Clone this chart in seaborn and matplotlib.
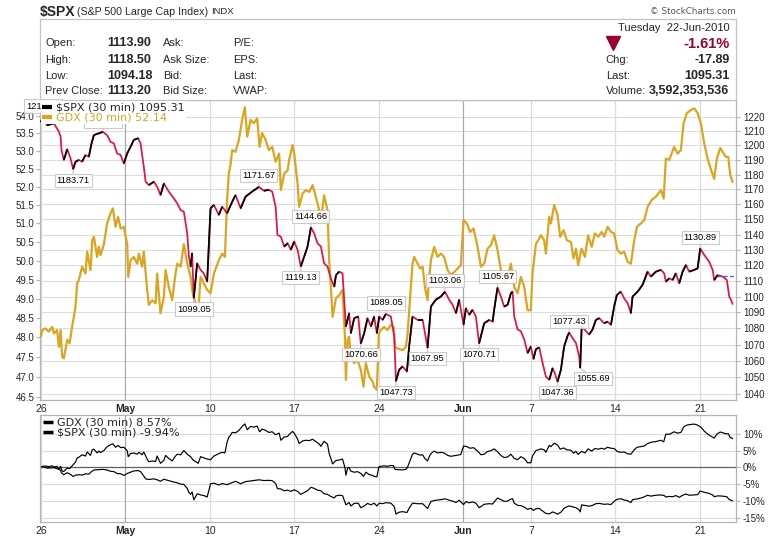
import matplotlib
matplotlib.use("Agg")
import matplotlib.pyplot as plt
import numpy as np
import pandas as pd
import seaborn as sns
from matplotlib.collections import LineCollection
from matplotlib.lines import Line2D
from matplotlib.ticker import NullLocator

# ---------------- data (trading-day index: 0 = Mon 26-Apr-2010 open) ----------------
spx_day = [0.00, 0.12, 0.36, 0.77, 1.07, 1.17, 1.22, 1.36, 1.56, 1.76, 1.91, 2.05, 2.25, 2.44, 2.64, 2.84, 3.00, 3.14, 3.43, 3.67, 3.92, 4.12, 4.32, 4.51, 4.72, 4.91,
           5.11, 5.31, 5.50, 5.76, 5.90, 6.09, 6.20, 6.39, 6.69, 6.88, 7.08, 7.28, 7.57, 7.87, 8.07, 8.27, 8.46, 8.66, 8.76, 8.86, 8.95, 9.05, 9.25, 9.45, 9.64, 9.84,
           10.04, 10.24, 10.53, 10.73, 11.02, 11.32, 11.52, 11.82, 12.11, 12.50, 12.90, 13.20, 13.49, 13.69, 13.89, 14.00, 14.20, 14.40, 14.60, 14.79, 14.99,
           15.19, 15.38, 15.58, 15.78, 15.98, 16.17, 16.37, 16.57, 16.76, 16.96, 17.16, 17.36, 17.46, 17.65, 17.85, 17.95, 18.05, 18.24, 18.34, 18.54, 18.78, 18.93, 19.13, 19.33, 19.53, 19.72, 19.88,
           20.02, 20.22, 20.41, 20.71, 20.91, 21.01, 21.20, 21.40, 21.66, 21.79, 21.99, 22.29, 22.59, 22.88, 23.08, 23.37, 23.67, 23.91, 24.16, 24.36, 24.56, 24.75,
           25.01, 25.15, 25.34, 25.54, 25.74, 25.93, 26.23, 26.53, 26.73, 26.82, 27.02, 27.22, 27.41, 27.62, 27.81, 27.91, 28.01, 28.21, 28.40, 28.60, 28.80, 28.99,
           29.15, 29.29, 29.49, 29.69, 29.88, 30.08, 30.28, 30.41, 30.57, 30.77, 30.96, 31.17, 31.26, 31.46, 31.66, 31.85, 31.91, 32.00, 32.25, 32.44, 32.64, 32.84, 33.04, 33.33, 33.53, 33.73, 33.92,
           34.08, 34.32, 34.51, 34.72, 34.91, 35.01, 35.31, 35.60, 35.90, 36.09, 36.39, 36.69, 36.88, 36.98, 37.18, 37.38, 37.57, 37.77, 37.97, 38.17, 38.36, 38.66, 38.86,
           39.01, 39.25, 39.54, 39.75, 39.84, 40.04, 40.34, 40.59, 40.73, 40.83, 40.93]
spx_close = [1216.2, 1219.8, 1214.0, 1215.4, 1209.5, 1206.0, 1196.9, 1190.0, 1197.4, 1191.0, 1183.71, 1188.8, 1190.0, 1188.8, 1193.4, 1192.2, 1201.4, 1207.2, 1208.4, 1209.36, 1207.2, 1202.5, 1201.4, 1194.5, 1193.4, 1187.6,
             1194.5, 1199.1, 1203.8, 1205.0, 1201.4, 1185.4, 1175.2, 1172.9, 1175.2, 1171.8, 1166.2, 1174.0, 1168.5, 1164.0, 1160.6, 1156.2, 1155.1, 1140.8, 1125.6, 1119.1, 1127.8, 1099.05, 1121.3, 1117.0, 1114.8, 1109.5,
             1157.3, 1159.6, 1152.9, 1158.4, 1154.0, 1161.7, 1166.2, 1157.3, 1165.1, 1168.5, 1171.67, 1169.1, 1169.7, 1168.5, 1158.4, 1139.7, 1138.6, 1132.1, 1134.3, 1130.0, 1135.4,
             1130.0, 1119.13, 1125.6, 1132.1, 1144.66, 1140.8, 1134.3, 1132.1, 1121.3, 1119.1, 1111.4, 1106.3, 1113.6, 1115.9, 1114.8, 1098.0, 1081.2, 1089.5, 1077.0, 1086.4, 1087.4, 1070.66, 1077.0, 1086.4, 1081.2, 1087.4, 1077.0,
             1087.4, 1085.3, 1089.05, 1087.4, 1075.0, 1047.73, 1054.6, 1056.6, 1053.5, 1068.8, 1087.4, 1085.3, 1085.3, 1067.95, 1093.7, 1098.0, 1100.0, 1103.06, 1098.0, 1094.8, 1089.5, 1098.0,
             1082.3, 1092.7, 1088.5, 1091.6, 1087.4, 1070.71, 1083.2, 1085.3, 1084.2, 1091.6, 1105.67, 1100.0, 1093.7, 1094.8, 1102.1, 1103.1, 1087.4, 1079.3, 1078.3, 1073.1, 1064.8, 1068.8,
             1061.1, 1067.2, 1068.2, 1058.6, 1050.5, 1048.5, 1055.6, 1052.5, 1047.36, 1054.6, 1068.8, 1075.5, 1077.43, 1074.0, 1071.0, 1062.7, 1055.69, 1081.2, 1078.3, 1076.2, 1079.3, 1085.3, 1086.4, 1083.2, 1084.2, 1082.2, 1093.7,
             1101.0, 1103.1, 1098.9, 1095.8, 1089.5, 1100.0, 1103.1, 1107.4, 1115.9, 1112.7, 1115.9, 1117.0, 1114.8, 1109.5, 1111.6, 1110.5, 1114.8, 1108.4, 1115.9, 1120.2, 1115.9, 1117.0, 1118.0,
             1130.89, 1126.7, 1122.4, 1117.0, 1110.5, 1113.7, 1112.7, 1110.5, 1100.0, 1098.0, 1095.31]

gdx_day = [0.00, 0.08, 0.28, 0.47, 0.67, 0.77, 0.96, 1.07, 1.17, 1.26, 1.36, 1.56, 1.70, 1.85, 1.95, 2.05, 2.15, 2.25, 2.44, 2.64, 2.74, 2.94, 3.04, 3.14, 3.33, 3.43, 3.53, 3.73, 3.92, 4.12, 4.26, 4.42, 4.57, 4.72, 4.91,
           5.11, 5.17, 5.31, 5.50, 5.70, 5.80, 5.99, 6.09, 6.29, 6.39, 6.59, 6.79, 6.88, 7.08, 7.28, 7.38, 7.57, 7.77, 7.97, 8.07, 8.27, 8.46, 8.66, 8.86, 8.99, 9.15, 9.31, 9.45, 9.64, 9.84,
           10.04, 10.24, 10.53, 10.73, 10.89, 11.02, 11.12, 11.22, 11.32, 11.52, 11.72, 11.91, 12.07, 12.21, 12.41, 12.60, 12.80, 12.94, 13.09, 13.30, 13.49, 13.69, 13.89, 14.10, 14.20, 14.40, 14.60, 14.69, 14.89, 14.99,
           15.19, 15.28, 15.49, 15.68, 15.88, 16.08, 16.27, 16.47, 16.57, 16.67, 16.76, 16.96, 17.06, 17.16, 17.26, 17.46, 17.65, 17.85, 17.99, 18.05, 18.15, 18.24, 18.34, 18.54, 18.74, 18.93, 19.09, 19.23, 19.43, 19.63, 19.72, 19.88,
           20.00, 20.12, 20.31, 20.51, 20.71, 20.87, 20.95, 21.11, 21.40, 21.60, 21.70, 21.85, 21.99, 22.09, 22.29, 22.44, 22.59, 22.72, 22.88, 22.98, 23.08, 23.27, 23.47, 23.67, 23.86, 24.07, 24.26, 24.46, 24.66, 24.85,
           25.01, 25.21, 25.40, 25.60, 25.84, 26.04, 26.23, 26.43, 26.63, 26.82, 27.02, 27.22, 27.41, 27.62, 27.81, 28.01, 28.21, 28.40, 28.60, 28.80, 28.99,
           29.09, 29.29, 29.59, 29.78, 29.88, 30.08, 30.18, 30.37, 30.57, 30.73, 30.93, 31.12, 31.36, 31.52, 31.66, 31.79, 31.99, 32.19, 32.38, 32.59, 32.78, 32.98, 33.18, 33.33, 33.53, 33.73, 33.92,
           34.12, 34.32, 34.51, 34.72, 34.91, 35.11, 35.27, 35.50, 35.70, 35.90, 36.14, 36.39, 36.69, 36.85, 36.98, 37.18, 37.47, 37.67, 37.87, 38.03, 38.22, 38.46, 38.66, 38.86,
           39.05, 39.25, 39.45, 39.64, 39.84, 40.00, 40.20, 40.40, 40.53, 40.67, 40.79, 40.93]
gdx_close = [48.025, 48.19, 48.23, 48.15, 48.27, 48.10, 48.19, 47.76, 48.19, 47.51, 47.47, 47.94, 47.85, 48.27, 48.53, 48.79, 49.40, 49.49, 49.84, 49.66, 50.24, 49.75, 50.55, 50.64, 50.10, 50.37, 50.15, 50.44, 51.00, 51.27, 51.41, 50.91, 51.18, 50.86, 50.91,
             50.44, 49.57, 50.01, 50.10, 49.92, 50.19, 49.84, 50.24, 49.23, 48.84, 48.96, 48.88, 49.66, 48.62, 49.05, 49.75, 49.31, 48.96, 49.66, 49.92, 49.84, 50.44, 49.92, 49.57, 49.14, 48.88, 48.62, 49.57, 49.40, 49.23,
             49.14, 49.66, 50.01, 50.19, 50.10, 51.64, 52.37, 52.61, 53.03, 52.98, 53.32, 53.89, 54.25, 53.41, 53.89, 53.79, 53.93, 53.12, 53.51, 53.32, 53.03, 53.12, 52.70, 52.93, 51.91, 52.37, 52.46, 52.75, 53.17, 52.93,
             52.09, 51.45, 51.82, 51.91, 51.86, 52.05, 51.73, 51.36, 51.05, 51.45, 51.77, 51.36, 50.01, 49.31, 48.53, 49.01, 49.09, 49.23, 48.02, 46.93, 47.94, 48.02, 47.51, 47.35, 47.43, 47.18, 46.76, 47.35, 47.01, 46.89, 46.76, 46.68,
             48.10, 48.19, 48.27, 48.19, 48.32, 48.27, 47.76, 47.72, 47.68, 47.76, 48.10, 49.05, 49.92, 50.10, 49.92, 49.79, 49.84, 49.31, 48.96, 49.57, 50.01, 50.37, 50.10, 50.19, 50.10, 49.75, 49.62, 49.70, 49.79, 49.88,
             51.09, 51.00, 50.77, 50.86, 50.37, 49.84, 49.92, 50.32, 50.41, 50.68, 50.28, 49.75, 49.44, 49.53, 49.92, 49.31, 49.14, 49.57, 49.31, 48.70, 48.70,
             49.66, 50.44, 50.68, 50.55, 50.19, 51.18, 51.00, 51.50, 51.23, 50.64, 50.82, 50.55, 50.50, 50.06, 50.32, 49.88, 50.32, 50.10, 50.68, 50.37, 50.73, 50.64, 50.77, 50.64, 50.91, 50.77, 50.73,
             50.28, 50.19, 50.24, 49.97, 49.92, 50.55, 50.91, 51.00, 51.09, 51.45, 51.64, 51.73, 51.91, 51.68, 52.79, 52.75, 53.12, 52.93, 53.03, 53.79, 54.08, 54.17, 54.22, 54.08,
             53.79, 53.22, 52.79, 52.50, 52.22, 52.79, 53.09, 52.93, 52.84, 52.84, 52.33, 52.14]

# swing-point labels on the $SPX line
ann_day = [0.12, 3.67, 1.91, 9.05, 12.90, 15.98, 15.38, 18.93, 20.41, 21.01, 22.88, 23.91, 25.93, 27.02, 30.57, 31.26, 31.91, 39.01]
ann_value = [1219.80, 1209.36, 1183.71, 1099.05, 1171.67, 1144.66, 1119.13, 1070.66, 1089.05, 1047.73, 1067.95, 1103.06, 1070.71, 1105.67, 1047.36, 1077.43, 1055.69, 1130.89]
ann_side = ["up", "up", "down", "down", "up", "up", "down", "down", "up", "down", "down", "up", "down", "up", "down", "up", "downright", "up"]

prev_close = 1113.20
prev_close_from_day = 40

tick_days = [0, 5, 10, 15, 20, 25, 29, 34, 39]
tick_labels = ["26", "May", "10", "17", "24", "Jun", "7", "14", "21"]
month_labels = ["May", "Jun"]

gdx_ticks = [46.5, 47.0, 47.5, 48.0, 48.5, 49.0, 49.5, 50.0, 50.5, 51.0, 51.5, 52.0, 52.5, 53.0, 53.5, 54.0]
spx_ticks = list(range(1040, 1230, 10))
perf_ticks = [10, 5, 0, -5, -10, -15]

main_legend = ["\\$SPX (30 min) 1095.31", "GDX (30 min) 52.14"]
perf_legend = ["GDX (30 min) 8.57%", "\\$SPX (30 min) -9.94%"]

title_sym = "\\$SPX"
title_name = "(S&P 500 Large Cap Index)"
title_exch = "INDX"
hdr_lab1 = ["Open:", "High:", "Low:", "Prev Close:"]
hdr_val1 = ["1113.90", "1118.50", "1094.18", "1113.20"]
hdr_lab2 = ["Ask:", "Ask Size:", "Bid:", "Bid Size:"]
hdr_lab3 = ["P/E:", "EPS:", "Last:", "VWAP:"]
hdr_date = "Tuesday  22-Jun-2010"
hdr_pct = "-1.61%"
hdr_rlab = ["Chg:", "Last:", "Volume:"]
hdr_rval = ["-17.89", "1095.31", "3,592,353,536"]

# ---------------- style ----------------
sns.set_theme(style="white")
plt.rcParams["font.family"] = ["DejaVu Sans"]
LIB = "Liberation Sans"
FRAME = "#b4b4b4"
GRID = "#dcdcdc"
MGRID = "#a8a8a8"
GOLD = "#daa520"
RED = "#e0143e"
DARKRED = "#990033"

W, H = 780, 538
fig = plt.figure(figsize=(W / 100, H / 100), dpi=100)
fig.patch.set_facecolor("white")


def rect(x0, y0, x1, y1):
    return [x0 / W, 1 - y1 / H, (x1 - x0) / W, (y1 - y0) / H]


MAIN = rect(40, 100, 736, 400)
PERF = rect(40, 415, 736, 522)
HEAD = rect(40, 19, 736, 100)
XL = (-0.05, 41.13)
GDX_LIM = (46.43, 54.46)
SPX_LIM = (1036.4, 1231.8)
PERF_LIM = (-16.2, 15.6)

spx_df = pd.DataFrame({"day": spx_day, "close": spx_close})
gdx_df = pd.DataFrame({"day": gdx_day, "close": gdx_close})
spx_df["pct"] = (spx_df["close"] / spx_df["close"].iloc[0] - 1) * 100
gdx_df["pct"] = (gdx_df["close"] / gdx_df["close"].iloc[0] - 1) * 100

# ---------------- main panel: grid layer ----------------
ax_grid = fig.add_axes(MAIN, zorder=0)
ax_grid.set_facecolor("white")
ax_grid.set_yscale("log")
ax_grid.set_xlim(XL)
ax_grid.set_ylim(SPX_LIM)
for t in spx_ticks:
    ax_grid.axhline(t, color=GRID, lw=0.8, zorder=0)
for t, lab in zip(tick_days, tick_labels):
    ax_grid.axvline(t, color=MGRID if lab in month_labels else GRID, lw=0.9, zorder=0)
ax_grid.yaxis.set_major_locator(NullLocator())
ax_grid.yaxis.set_minor_locator(NullLocator())
ax_grid.set_xticks(tick_days)
ax_grid.set_xticklabels(tick_labels, fontfamily=LIB, fontsize=7.5)
for lab in ax_grid.get_xticklabels():
    if lab.get_text() in month_labels:
        lab.set_fontweight("bold")
ax_grid.tick_params(axis="x", length=0, pad=3)
for sp in ax_grid.spines.values():
    sp.set_color(FRAME)
    sp.set_linewidth(0.9)

# ---------------- GDX (left axis) ----------------
ax_g = fig.add_axes(MAIN, zorder=1)
ax_g.patch.set_visible(False)
sns.lineplot(data=gdx_df, x="day", y="close", ax=ax_g, color=GOLD, lw=1.6,
             estimator=None, sort=False)
ax_g.set_yscale("log")
ax_g.set_xlim(XL)
ax_g.set_ylim(GDX_LIM)
ax_g.set_yticks(gdx_ticks)
ax_g.set_yticklabels([f"{t:.1f}" for t in gdx_ticks], fontfamily=LIB, fontsize=7)
ax_g.yaxis.set_minor_locator(NullLocator())
ax_g.tick_params(axis="y", left=True, length=3, width=0.8, color=FRAME, pad=1)
ax_g.tick_params(axis="x", bottom=False, labelbottom=False)
ax_g.set_xlabel("")
ax_g.set_ylabel("")
for sp in ax_g.spines.values():
    sp.set_visible(False)

# ---------------- $SPX (right axis), red when falling, black when rising ----------------
ax_s = fig.add_axes(MAIN, zorder=2)
ax_s.patch.set_visible(False)
sns.lineplot(data=spx_df, x="day", y="close", ax=ax_s, color=RED, lw=1.25,
             estimator=None, sort=False)
d = spx_df["day"].to_numpy()
v = spx_df["close"].to_numpy()
segs = np.stack([np.column_stack([d[:-1], v[:-1]]), np.column_stack([d[1:], v[1:]])], axis=1)
up = np.diff(v) >= 0
ax_s.add_collection(LineCollection(segs[up], colors="black", linewidths=1.25, zorder=3,
                                   capstyle="butt"))
ax_s.hlines(prev_close, prev_close_from_day, XL[1], colors="#4848ff",
            linestyles=(0, (3, 2)), lw=0.9, zorder=2.5)
ax_s.set_yscale("log")
ax_s.set_xlim(XL)
ax_s.set_ylim(SPX_LIM)
ax_s.yaxis.tick_right()
ax_s.set_yticks(spx_ticks)
ax_s.set_yticklabels([str(t) for t in spx_ticks], fontfamily=LIB, fontsize=7)
ax_s.yaxis.set_minor_locator(NullLocator())
ax_s.tick_params(axis="y", right=True, left=False, length=3, width=0.8, color=FRAME, pad=2)
ax_s.tick_params(axis="x", bottom=False, labelbottom=False)
ax_s.set_xlabel("")
ax_s.set_ylabel("")
for sp in ax_s.spines.values():
    sp.set_visible(False)

offsets = {"up": (0, 7.9), "down": (0, -7.9), "downright": (9.4, -7.9)}
for dd, vv, side in zip(ann_day, ann_value, ann_side):
    ax_s.annotate(f"{vv:.2f}", xy=(dd, vv), xytext=offsets[side], textcoords="offset points",
                  ha="center", va="center", fontsize=6.7, fontfamily=LIB, color="black",
                  bbox=dict(boxstyle="square,pad=0.22", fc="white", ec="#c4c4c4", lw=0.8, alpha=0.88),
                  arrowprops=dict(arrowstyle="-", color="#c8c8c8", lw=0.9, shrinkA=0, shrinkB=1),
                  annotation_clip=False, zorder=8)

h1 = Line2D([], [], color="black", lw=3, solid_capstyle="butt")
h2 = Line2D([], [], color=GOLD, lw=3, solid_capstyle="butt")
leg = ax_s.legend([h1, h2], main_legend, loc="upper left", bbox_to_anchor=(0.0, 1.0),
                  borderaxespad=0.1, frameon=True, fancybox=False, framealpha=1,
                  facecolor="white", edgecolor="none", fontsize=8, handlelength=0.9,
                  handletextpad=0.35, labelspacing=0.02, borderpad=0.12)
leg.get_texts()[1].set_color(GOLD)
leg.set_zorder(20)

# ---------------- performance panel ----------------
ax_p = fig.add_axes(PERF)
ax_p.set_facecolor("white")
for t in perf_ticks:
    if t != 0:
        ax_p.axhline(t, color=GRID, lw=0.8, zorder=0)
for t, lab in zip(tick_days, tick_labels):
    ax_p.axvline(t, color=MGRID if lab in month_labels else GRID, lw=0.9, zorder=0)
ax_p.axhline(0, color="#606060", lw=0.9, zorder=1)
sns.lineplot(data=gdx_df, x="day", y="pct", ax=ax_p, color="black", lw=0.85,
             estimator=None, sort=False)
sns.lineplot(data=spx_df, x="day", y="pct", ax=ax_p, color="black", lw=0.85,
             estimator=None, sort=False)
ax_p.set_xlim(XL)
ax_p.set_ylim(PERF_LIM)
ax_p.yaxis.tick_right()
ax_p.set_yticks(perf_ticks)
ax_p.set_yticklabels([f"{t}%" for t in perf_ticks], fontfamily=LIB, fontsize=7)
ax_p.tick_params(axis="y", right=True, left=False, length=3, width=0.8, color=FRAME, pad=2)
ax_p.set_xticks(tick_days)
ax_p.set_xticklabels(tick_labels, fontfamily=LIB, fontsize=7.5)
for lab in ax_p.get_xticklabels():
    if lab.get_text() in month_labels:
        lab.set_fontweight("bold")
ax_p.tick_params(axis="x", length=0, pad=3)
ax_p.set_xlabel("")
ax_p.set_ylabel("")
for sp in ax_p.spines.values():
    sp.set_color(FRAME)
    sp.set_linewidth(0.9)
hb = Line2D([], [], color="black", lw=2.5, solid_capstyle="butt")
lp = ax_p.legend([hb, hb], perf_legend, loc="upper left", bbox_to_anchor=(0.0, 1.0),
                 borderaxespad=0.15, frameon=False, fontsize=8, handlelength=0.9,
                 handletextpad=0.35, labelspacing=0.0, borderpad=0.1)

# ---------------- header ----------------
ax_h = fig.add_axes(HEAD)
ax_h.set_xlim(40, 736)
ax_h.set_ylim(100, 19)
ax_h.set_xticks([])
ax_h.set_yticks([])
ax_h.set_facecolor("white")
for sp in ax_h.spines.values():
    sp.set_color("#c4c4c4")
    sp.set_linewidth(0.9)

row_y = [43.5, 60.5, 76.3, 91.5]
for y, a, b, c, e in zip(row_y, hdr_lab1, hdr_val1, hdr_lab2, hdr_lab3):
    ax_h.text(45, y, a, fontfamily=LIB, fontsize=8, va="center", ha="left")
    ax_h.text(107.3, y, b, fontfamily=LIB, fontsize=9, fontweight="bold", va="center", ha="left")
    ax_h.text(163.3, y, c, fontfamily=LIB, fontsize=8, va="center", ha="left")
    ax_h.text(232.7, y, e, fontfamily=LIB, fontsize=8, va="center", ha="left")

ax_h.text(729.3, 27.7, hdr_date, fontfamily=LIB, fontsize=8, va="center", ha="right")
ax_h.plot([612.7], [43.0], marker="v", markersize=10, color=DARKRED, linestyle="none")
ax_h.text(729.3, 44.0, hdr_pct, fontfamily=LIB, fontsize=10.5, fontweight="bold",
          color=DARKRED, va="center", ha="right")
for y, a, b in zip(row_y[1:], hdr_rlab, hdr_rval):
    ax_h.text(605.7, y, a, fontfamily=LIB, fontsize=8, va="center", ha="left")
    ax_h.text(729.3, y, b, fontfamily=LIB, fontsize=9, fontweight="bold", va="center", ha="right")

# title line
fig.text(40 / W, 1 - 12 / H, title_sym, fontfamily=LIB, fontsize=10, fontweight="bold",
         va="center", ha="left")
fig.text(77 / W, 1 - 12 / H, title_name, fontfamily=LIB, fontsize=7.7, va="center", ha="left")
fig.text(211 / W, 1 - 12 / H, title_exch, fontfamily=LIB, fontsize=6.8, va="center", ha="left")
fig.text(736 / W, 1 - 11.7 / H, "\u00a9 StockCharts.com", fontfamily="DejaVu Sans", fontsize=6.3,
         color="#555555", va="center", ha="right")

fig.savefig("out.png", dpi=100, facecolor="white")
